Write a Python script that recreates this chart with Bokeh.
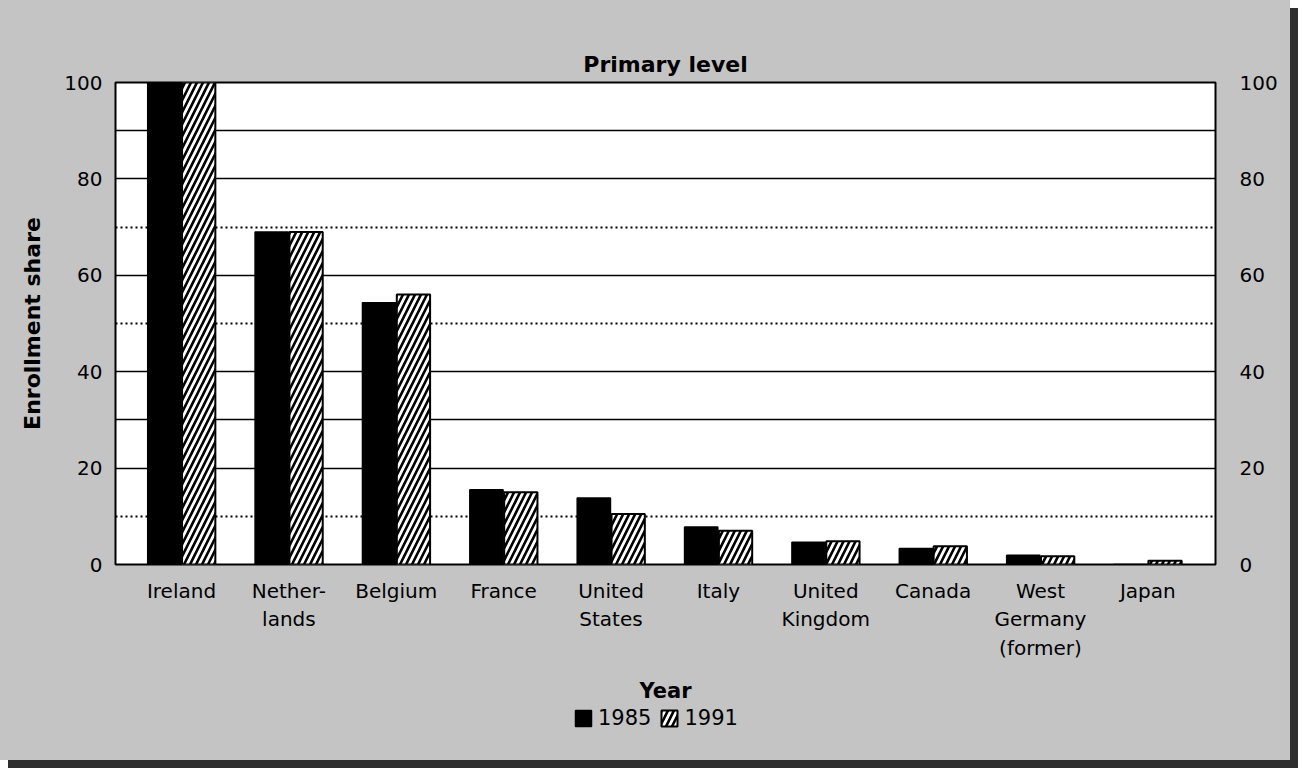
from bokeh.plotting import figure
from bokeh.layouts import column
from bokeh.models import (ColumnDataSource, Range1d, LinearAxis, FixedTicker, Grid,
                          Legend, LegendItem)
from bokeh.transform import dodge
from bokeh.embed import file_html
from bokeh.resources import INLINE

countries = ["Ireland", "Nether-\nlands", "Belgium", "France", "United\nStates", "Italy",
             "United\nKingdom", "Canada", "West\nGermany\n(former)", "Japan"]
share_1985 = [100, 69, 54.3, 15.5, 13.8, 7.8, 4.6, 3.3, 1.9, 0]
share_1991 = [100, 69, 56, 15, 10.5, 7, 4.8, 3.8, 1.7, 0.8]
years = ["1985", "1991"]
y_ticks = [0, 20, 40, 60, 80, 100]
solid_grid = [20, 30, 40, 60, 80, 90]
dotted_grid = [10, 50, 70]

FONT = "DejaVu Sans"
BG = "#c4c4c4"

idx = list(range(len(countries)))
src = ColumnDataSource(dict(idx=idx, v1985=share_1985, v1991=share_1991))

style85 = dict(fill_color="black", line_color="black", line_width=1.5)
style91 = dict(fill_color="white", line_color="black", line_width=2,
               hatch_pattern="/", hatch_color="black", hatch_weight=2.6, hatch_scale=12)

p = figure(width=1290, height=706, output_backend="svg", toolbar_location=None,
           x_range=Range1d(-0.615, 9.63), y_range=Range1d(0, 100),
           min_border_left=115, min_border_right=75, min_border_top=82,
           min_border_bottom=142)
p.background_fill_color = "white"
p.border_fill_color = BG
p.outline_line_color = "black"
p.outline_line_width = 2

p.title.text = "Primary level"
p.title.align = "center"
p.title.text_font = FONT
p.title.text_font_size = "22px"
p.title.text_font_style = "bold"
p.title.text_color = "black"
p.title.standoff = 12

# grids
p.xgrid.visible = False
p.ygrid.ticker = FixedTicker(ticks=solid_grid)
p.ygrid.grid_line_color = "black"
p.ygrid.grid_line_width = 1.3
dgrid = Grid(dimension=1, ticker=FixedTicker(ticks=dotted_grid), grid_line_color="black",
             grid_line_width=1.8, grid_line_dash="2 3")
p.add_layout(dgrid)

p.vbar(x=dodge("idx", -0.16, range=p.x_range), top="v1985", width=0.31, source=src, **style85)
p.vbar(x=dodge("idx", 0.16, range=p.x_range), top="v1991", width=0.31, source=src, **style91)

# x axis
xa = p.xaxis[0]
xa.ticker = FixedTicker(ticks=idx)
xa.major_label_overrides = {i: c for i, c in zip(idx, countries)}
xa.major_label_text_font = FONT
xa.major_label_text_font_size = "20px"
xa.major_label_text_color = "black"
xa.major_tick_line_color = None
xa.minor_tick_line_color = None
xa.axis_line_color = None
xa.major_label_standoff = 8
xa.axis_label = "Year"
xa.axis_label_text_font = FONT
xa.axis_label_text_font_size = "21px"
xa.axis_label_text_font_style = "bold"
xa.axis_label_text_color = "black"
xa.axis_label_standoff = 16

# y axes
ya = p.yaxis[0]
ya.axis_label = "Enrollment share"
right = LinearAxis()
p.add_layout(right, "right")
for ax in (ya, right):
    ax.ticker = FixedTicker(ticks=y_ticks)
    ax.major_label_text_font = FONT
    ax.major_label_text_font_size = "20px"
    ax.major_label_text_color = "black"
    ax.major_tick_line_color = None
    ax.minor_tick_line_color = None
    ax.axis_line_color = None
ya.major_label_standoff = 7
right.major_label_standoff = 18
ya.axis_label_text_font = FONT
ya.axis_label_text_font_size = "22px"
ya.axis_label_text_font_style = "bold"
ya.axis_label_text_color = "black"
ya.axis_label_standoff = 16

# legend strip (separate small figure so the legend sits below the axis title)
lf = figure(width=1290, height=54, output_backend="svg", toolbar_location=None,
            x_axis_type=None, y_axis_type=None, x_range=Range1d(0, 1), y_range=Range1d(0, 1),
            min_border=0)
lf.background_fill_alpha = 0
lf.border_fill_alpha = 0
lf.outline_line_color = None
lf.grid.visible = False
# hidden sample bars: they only supply the legend swatches
swatch = ColumnDataSource(dict(x=[0.5], top=[0.5]))
l85 = lf.vbar(x="x", top="top", width=0.1, source=swatch, visible=False, **style85)
l91 = lf.vbar(x="x", top="top", width=0.1, source=swatch, visible=False, **style91)
legend = Legend(items=[LegendItem(label=years[0], renderers=[l85]),
                       LegendItem(label=years[1], renderers=[l91])],
                orientation="horizontal", location=(458, 30),
                background_fill_alpha=0, border_line_color=None,
                label_text_font=FONT, label_text_font_size="21px", label_text_color="black",
                glyph_width=20, glyph_height=20, spacing=8, padding=2, margin=0)
lf.add_layout(legend)

page = column(p, lf, spacing=0,
              styles={"box-shadow": "8px 8px 0 #2e2e2e", "background-color": BG})

open("out.html", "w").write(file_html(page, INLINE))
